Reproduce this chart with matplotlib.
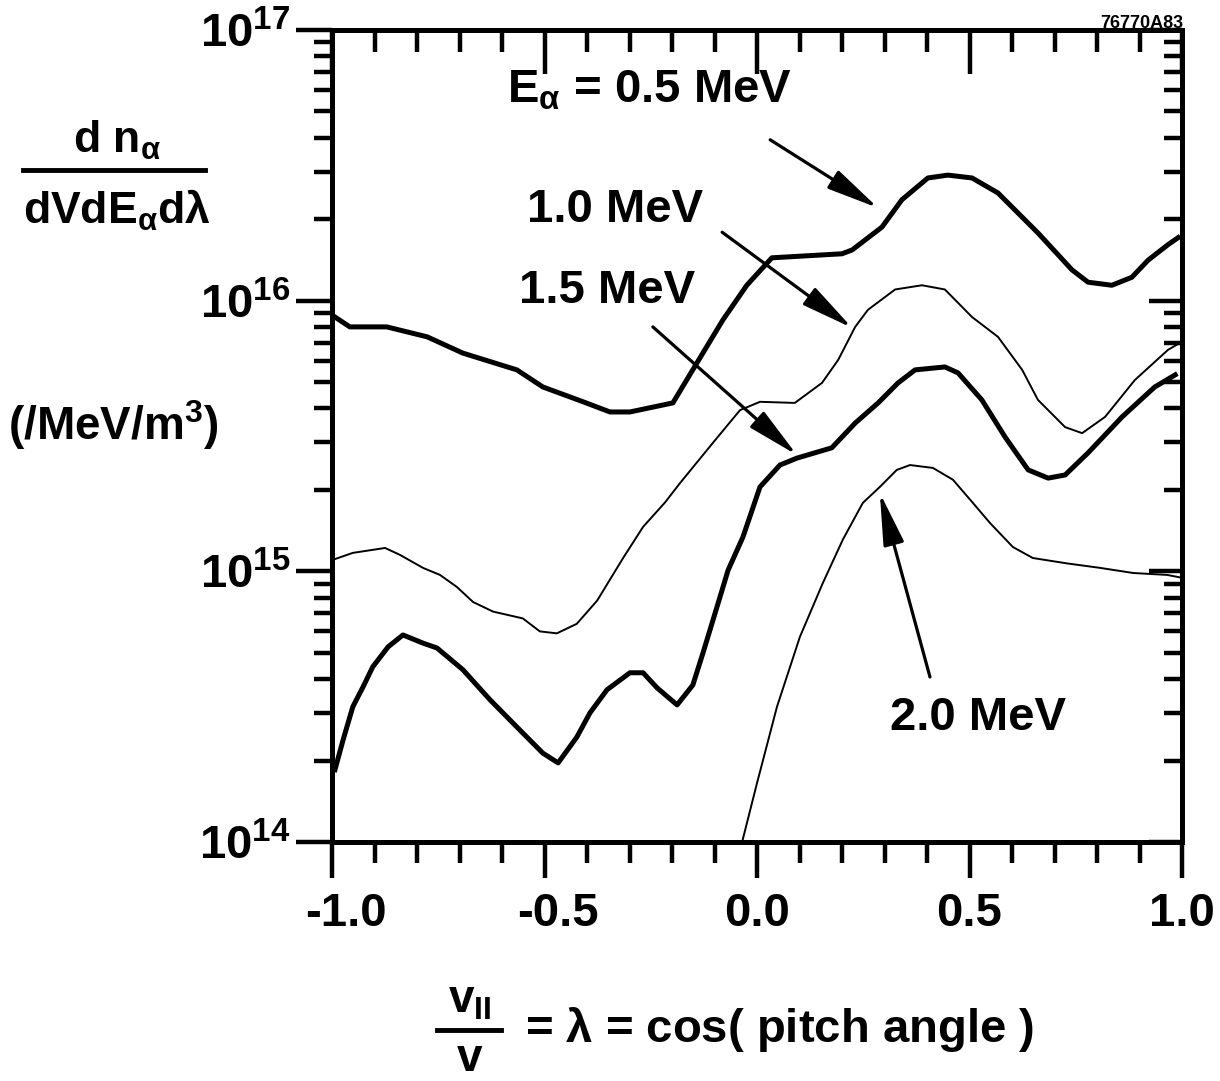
import matplotlib
matplotlib.use("Agg")

import matplotlib.pyplot as plt
from matplotlib.lines import Line2D
from matplotlib.patches import ArrowStyle
from matplotlib.transforms import ScaledTranslation

plt.rcParams["font.family"] = ["Liberation Sans", "DejaVu Sans"]
plt.rcParams["font.weight"] = "bold"
plt.rcParams["mathtext.fontset"] = "custom"
plt.rcParams["mathtext.rm"] = "Liberation Sans:bold"
plt.rcParams["mathtext.it"] = "Liberation Sans:bold"
plt.rcParams["mathtext.bf"] = "Liberation Sans:bold"
plt.rcParams["mathtext.sf"] = "Liberation Sans:bold"

# ---- data ----
x_05 = [-0.993, -0.958, -0.871, -0.776, -0.692, -0.565, -0.504, -0.409, -0.346, -0.299,
        -0.198, -0.141, -0.080, -0.024, 0.035, 0.200, 0.224, 0.294, 0.341, 0.402,
        0.449, 0.506, 0.567, 0.661, 0.741, 0.779, 0.835, 0.882, 0.920, 0.967, 0.991]
y_05 = [8.7e15, 8.0e15, 8.0e15, 7.35e15, 6.4e15, 5.55e15, 4.8e15, 4.23e15, 3.88e15, 3.88e15,
        4.19e15, 5.9e15, 8.5e15, 1.14e16, 1.44e16, 1.49e16, 1.54e16, 1.87e16, 2.36e16, 2.84e16,
        2.91e16, 2.84e16, 2.5e16, 1.78e16, 1.3e16, 1.17e16, 1.14e16, 1.22e16, 1.41e16, 1.61e16, 1.71e16]

x_10 = [-0.993, -0.951, -0.875, -0.840, -0.786, -0.746, -0.706, -0.668, -0.621, -0.551,
        -0.511, -0.471, -0.424, -0.376, -0.315, -0.268, -0.216, -0.181, -0.104, -0.040,
        0.007, 0.089, 0.153, 0.191, 0.231, 0.261, 0.325, 0.388, 0.442, 0.506,
        0.567, 0.624, 0.661, 0.725, 0.765, 0.819, 0.889, 0.967, 0.995]
y_10 = [1.11e15, 1.17e15, 1.22e15, 1.15e15, 1.03e15, 9.7e14, 8.75e14, 7.7e14, 7.1e14, 6.7e14,
        6.0e14, 5.9e14, 6.4e14, 7.8e14, 1.12e15, 1.46e15, 1.8e15, 2.12e15, 2.98e15, 3.94e15,
        4.23e15, 4.19e15, 4.97e15, 6.04e15, 8.0e15, 9.25e15, 1.1e16, 1.14e16, 1.1e16, 8.7e15,
        7.35e15, 5.55e15, 4.3e15, 3.41e15, 3.24e15, 3.72e15, 5.09e15, 6.58e15, 6.98e15]

x_15 = [-0.993, -0.974, -0.951, -0.927, -0.904, -0.868, -0.833, -0.786, -0.753, -0.692,
        -0.628, -0.565, -0.504, -0.468, -0.424, -0.393, -0.353, -0.299, -0.268, -0.235,
        -0.188, -0.151, -0.127, -0.094, -0.068, -0.033, 0.007, 0.054, 0.094, 0.176,
        0.231, 0.285, 0.332, 0.372, 0.442, 0.473, 0.529, 0.584, 0.638, 0.685,
        0.725, 0.779, 0.859, 0.936, 0.984]
y_15 = [1.85e14, 2.38e14, 3.16e14, 3.74e14, 4.44e14, 5.26e14, 5.82e14, 5.43e14, 5.21e14, 4.33e14,
        3.35e14, 2.66e14, 2.13e14, 1.96e14, 2.44e14, 3.0e14, 3.65e14, 4.22e14, 4.22e14, 3.71e14,
        3.21e14, 3.8e14, 5.0e14, 7.4e14, 1.01e15, 1.34e15, 2.05e15, 2.47e15, 2.62e15, 2.86e15,
        3.53e15, 4.19e15, 4.97e15, 5.55e15, 5.69e15, 5.41e15, 4.3e15, 3.13e15, 2.37e15, 2.21e15,
        2.27e15, 2.74e15, 3.72e15, 4.8e15, 5.32e15]

x_20 = [-0.035, 0.000, 0.047, 0.101, 0.155, 0.202, 0.249, 0.289, 0.329, 0.360,
        0.414, 0.461, 0.508, 0.548, 0.602, 0.649, 0.729, 0.807, 0.885, 0.965, 0.995]
y_20 = [1.0e14, 1.65e14, 3.16e14, 5.73e14, 9.06e14, 1.31e15, 1.79e15, 2.05e15, 2.37e15, 2.47e15,
        2.41e15, 2.18e15, 1.79e15, 1.51e15, 1.23e15, 1.12e15, 1.07e15, 1.03e15, 9.86e14, 9.7e14, 9.5e14]

# label text, text position, arrow tail, arrow tip
labels = [r"E$_{\alpha}$ = 0.5 MeV", "1.0 MeV", "1.5 MeV", "2.0 MeV"]
label_xy = [(-0.252, 6.0e16), (-0.334, 2.16e16), (-0.353, 1.09e16), (0.520, 2.87e14)]
arrow_tail = [(0.031, 3.93e16), (-0.082, 1.79e16), (-0.245, 8.0e15), (0.407, 4.07e14)]
arrow_tip = [(0.285, 2.20e16), (0.224, 7.93e15), (0.094, 2.69e15), (0.289, 1.95e15)]

xticks = [-1.0, -0.5, 0.0, 0.5, 1.0]
xtick_labels = ["-1.0", "-0.5", "0.0", "0.5", "1.0"]
yticks = [1e14, 1e15, 1e16, 1e17]
ytick_labels = ["10$^{14}$", "10$^{15}$", "10$^{16}$", "10$^{17}$"]
xminor = [-0.9, -0.8, -0.7, -0.6, -0.4, -0.3, -0.2, -0.1, 0.1, 0.2, 0.3, 0.4,
          0.6, 0.7, 0.8, 0.9]
yminor = [k * 10.0 ** e for e in (14, 15, 16) for k in range(2, 10)]

XLIM = (-1.0, 1.0)
YLIM = (1e14, 1e17)

W, H = 1220, 1081
fig = plt.figure(figsize=(W / 100, H / 100), dpi=100)
rect = [332 / W, 1 - 842 / H, 850 / W, 812 / H]

# overlay axes: only used for the inward ticks on top and right
ax_tr = fig.add_axes(rect)
ax_tr.set_yscale("log")
ax_tr.set_xlim(*XLIM)
ax_tr.set_ylim(*YLIM)
ax_tr.set_xticks(xticks)
ax_tr.set_xticks(xminor, minor=True)
ax_tr.set_yticks(yticks)
ax_tr.set_yticks(yminor, minor=True)
ax_tr.tick_params(which="both", direction="in", bottom=False, left=False,
                  top=True, right=True, labelbottom=False, labelleft=False,
                  width=3.2)
ax_tr.tick_params(axis="x", which="major", length=32)
ax_tr.tick_params(axis="x", which="minor", length=16)
ax_tr.tick_params(axis="y", which="major", length=24)
ax_tr.tick_params(axis="y", which="minor", length=13)
ax_tr.patch.set_visible(False)
for s in ax_tr.spines.values():
    s.set_linewidth(3.5)

ax = fig.add_axes(rect)
ax.patch.set_visible(False)

THICK = 3.6
THIN = 1.4
ax.plot(x_05, y_05, color="k", lw=THICK, solid_joinstyle="round")
ax.plot(x_10, y_10, color="k", lw=THIN, solid_joinstyle="round")
ax.plot(x_15, y_15, color="k", lw=THICK, solid_joinstyle="round")
ax.plot(x_20, y_20, color="k", lw=THIN, solid_joinstyle="round")

ax.set_yscale("log")
ax.set_xlim(*XLIM)
ax.set_ylim(*YLIM)

ax.set_xticks(xticks, xtick_labels)
ax.set_xticks(xminor, minor=True)
ax.set_yticks(yticks, ytick_labels)
ax.set_yticks(yminor, minor=True)
ax.yaxis.set_minor_formatter(plt.NullFormatter())
ax.tick_params(axis="x", which="major", direction="out", length=26, width=3.2,
               labelsize=34, pad=10)
ax.tick_params(axis="x", which="minor", direction="out", length=15, width=3.2)
ax.tick_params(axis="y", which="major", direction="out", length=26, width=3.2,
               labelsize=34, pad=4)
ax.tick_params(axis="y", which="minor", direction="out", length=13, width=3.2)
for s in ax.spines.values():
    s.set_linewidth(3.5)

# negative labels sit a bit to the right in the original
shift = ScaledTranslation(10 / 72, 0, fig.dpi_scale_trans)
for lab in ax.get_xticklabels():
    if lab.get_text().startswith("-"):
        lab.set_transform(lab.get_transform() + shift)

astyle = ArrowStyle("-|>", head_length=1.6, head_width=0.32)
for lab, pos, tail, tip in zip(labels, label_xy, arrow_tail, arrow_tip):
    ax.text(pos[0], pos[1], lab, fontsize=34, ha="center", va="center")
    ax.annotate("", xy=tip, xytext=tail,
                arrowprops=dict(arrowstyle=astyle, color="k", lw=2.3,
                                shrinkA=0, shrinkB=0, mutation_scale=20))

# y axis label
fig.text(117 / W, 1 - 140 / H, r"d n$_{\alpha}$", fontsize=32, ha="center", va="center")
fig.add_artist(Line2D([23 / W, 205 / W], [1 - 170 / H, 1 - 170 / H],
                      transform=fig.transFigure, color="k", lw=3.5))
fig.text(117 / W, 1 - 210 / H, r"dVdE$_{\alpha}$d$\lambda$", fontsize=32,
         ha="center", va="center")
fig.text(8 / W, 1 - 425 / H, r"(/MeV/m$^{3}$)", fontsize=33, ha="left", va="center")

# x axis label
fig.text(470 / W, 1 - 1013 / H, r"v$_{\rm II}$", fontsize=33, ha="center", va="baseline")
fig.add_artist(Line2D([437 / W, 501 / W], [1 - 1030 / H, 1 - 1030 / H],
                      transform=fig.transFigure, color="k", lw=3.5))
fig.text(470 / W, 1 - 1071 / H, "v", fontsize=33, ha="center", va="baseline")
fig.text(525 / W, 1 - 1030 / H, r"= $\lambda$ = cos( pitch angle )", fontsize=34,
         ha="left", va="center")

fig.text(1183 / W, 1 - 24 / H, "76770A83", fontsize=13, ha="right", va="center")

fig.savefig("out.png", dpi=100)
